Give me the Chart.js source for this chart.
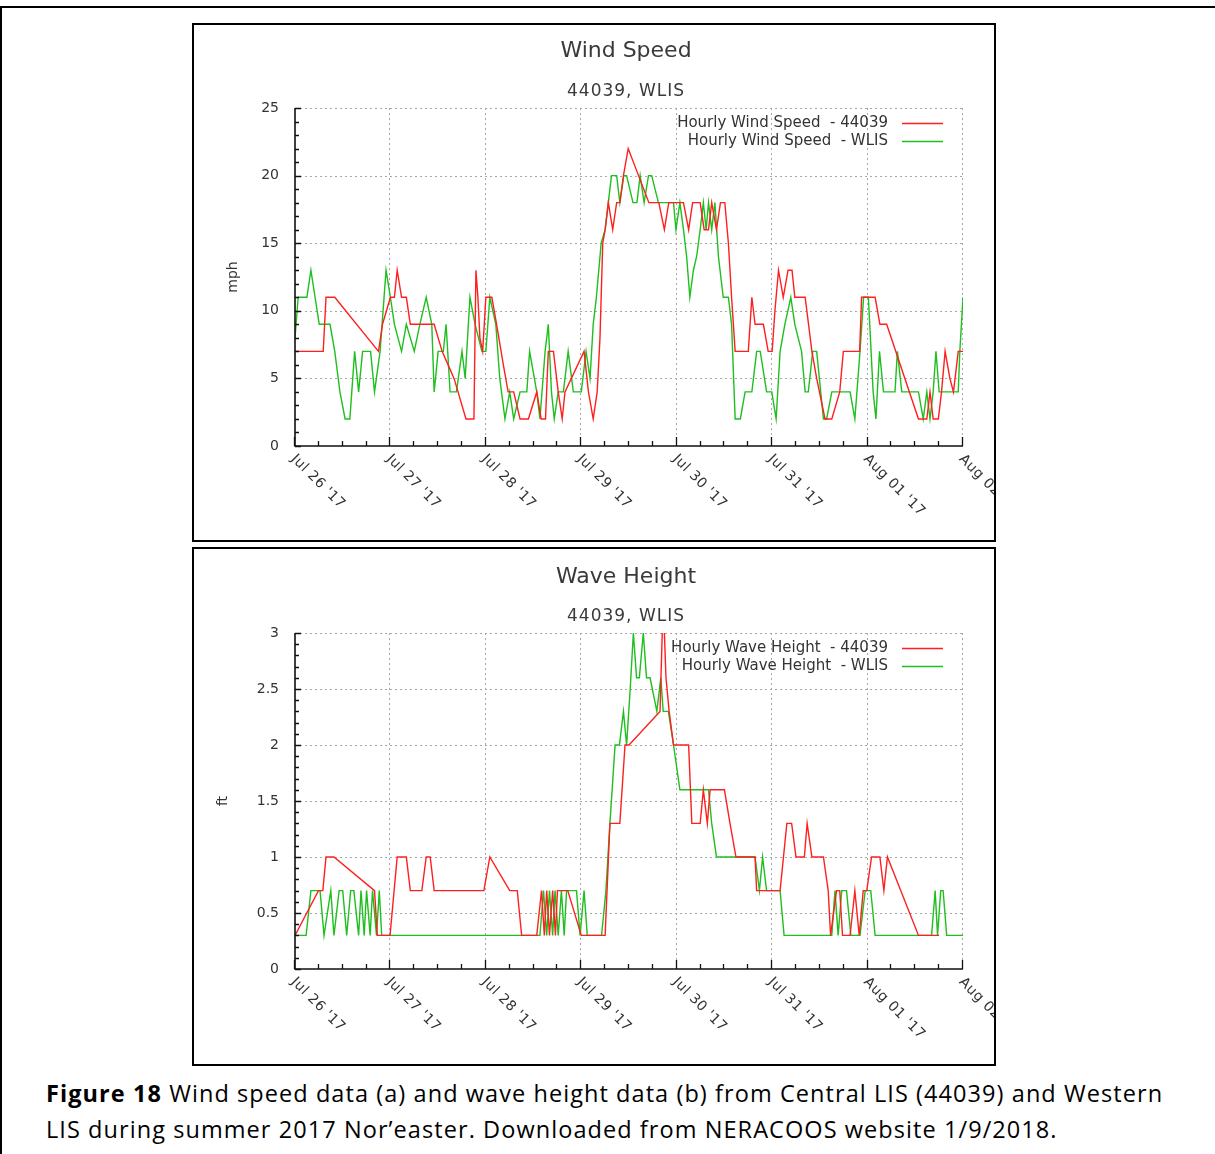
<!DOCTYPE html>
<html>
<head>
<meta charset="utf-8">
<script src="https://cdn.jsdelivr.net/npm/chart.js@4.4.1/dist/chart.umd.min.js"></script>
<style>
html,body{margin:0;padding:0;background:#fff;}
body{width:1215px;height:1154px;overflow:hidden;position:relative;}
#frame{position:absolute;left:0;top:6px;width:1240px;height:1200px;border-top:2px solid #000;border-left:2px solid #000;}
.box{position:absolute;left:192px;width:800px;height:515px;border:2px solid #000;background:#fff;}
#box1{top:23px;}
#box2{top:547px;}
.box canvas{display:block;}
#caption{position:absolute;left:46px;top:1075px;font-family:"Open Sans",sans-serif;font-size:23.5px;line-height:36px;color:#000;white-space:nowrap;}
#caption span{display:inline-block;}
</style>
</head>
<body>
<div id="frame"></div>
<div class="box" id="box1"><canvas id="wind" width="800" height="515"></canvas></div>
<div class="box" id="box2"><canvas id="wave" width="800" height="515"></canvas></div>
<div id="caption"><span id="cap1"><b>Figure 18</b> Wind speed data (a) and wave height data (b) from Central LIS (44039) and Western</span><br><span id="cap2">LIS during summer 2017 Nor’easter. Downloaded from NERACOOS website 1/9/2018.</span></div>
<script>
// ---------- tick labels ----------
const xTickHours = [0, 24, 48, 72, 96, 120, 144, 168];
const xTickLabels = ["Jul 26 '17", "Jul 27 '17", "Jul 28 '17", "Jul 29 '17", "Jul 30 '17", "Jul 31 '17", "Aug 01 '17", "Aug 02 '17"];
const windTicks = [0, 5, 10, 15, 20, 25];
const waveTicks = [0, 0.5, 1, 1.5, 2, 2.5, 3];
const windLegend = ["Hourly Wind Speed  - 44039", "Hourly Wind Speed  - WLIS"];
const waveLegend = ["Hourly Wave Height  - 44039", "Hourly Wave Height  - WLIS"];

// ---------- data (hours since Jul 26 '17 00:00) ----------
const windHours44039 = [0,7.1,7.8,10,21,22,24,25,25.7,26.8,28,29,35,36,37,38.5,40,41,43,45,45.5,46,46.5,47.2,48,49.5,50.7,52.4,53.6,55,56.6,58.7,60.8,61.9,63,63.7,65,66.2,67.2,67.9,72.7,73.8,75,76,76.7,77.4,78,78.8,79.9,80.9,81.7,82.6,83.8,89,91.5,92.9,94,97.7,99,100,101.9,102.9,104,104.8,106,107,108.1,109,109.8,110.7,114,114.9,115.7,117.8,119,120,120.7,121.6,122.8,124,125,125.7,128.3,130,131.2,133.3,135,137,137.9,142,142.5,145.9,147.1,148.8,156.8,158.9,159.7,160.5,161.8,162.6,163.5,164.7,165.6,166.8,168];
const windMph44039 = [7,7,11,11,7,9,11,11,13,11,11,9,9,8,7,6,5,4,2,2,13,11,8,7,11,11,9,6,4,4,2,2,4,2,2,7,7,4,2,4,7,4,2,4,8,15,16,18,16,18,18,20,22,18,18,16,18,18,16,18,18,16,16,18,16,18,18,15,11,7,7,11,9,9,7,7,10,13,11,13,13,11,11,7,5,2,2,4,7,7,11,11,9,9,2,2,4,2,2,4,7,5,4,7,7];

const windHoursWLIS = [0,0.8,3,4,6.1,8.8,10,11.3,12.6,13.8,15,16,17,19,20,21.4,22.9,24,25,26.8,28,30,31.4,33,34.4,35,36,37.3,38,39,40.6,42,42.8,44,45.3,47,48,49,50.5,51.5,52.8,54,55,56.6,58.3,59,60.8,61.6,62.9,63.7,64.5,65.2,66.2,67.5,68.7,70,72,73.2,74.2,75,75.8,77,78,78.8,79.6,80.9,81.7,82.7,83.4,85,86,86.8,87.8,88.9,89.7,91.4,95.2,95.8,96.8,97.7,98.5,99.3,100.2,101,101.9,102.7,103.4,104,104.8,105.6,106.5,107.7,109,109.8,110.7,112,113.2,114.9,116.1,117,118.6,119.9,121,122,123.2,124.7,125.7,127.4,128.3,129.1,130.2,131.2,132.9,133.7,135,139.6,140.8,142.1,143,144.2,145.4,146.1,147,148,150.9,151.5,152.6,156.8,158,158.9,159.7,160.5,161.2,162,166.8,167.2,168];
const windMphWLIS = [8,11,11,13,9,9,7,4,2,2,7,4,7,7,4,7,13,11,9,7,9,7,9,11,9,4,7,7,9,4,4,7,5,11,9,7,7,11,9,5,2,4,2,4,4,7,4,2,7,9,4,2,4,4,7,4,4,7,5,9,11,15,16,18,20,20,18,20,20,18,18,20,18,20,20,18,18,16,18,16,14,11,13,14,16,18,16,18,16,18,14,11,11,9,2,2,4,4,7,7,4,4,2,7,9,11,9,7,4,4,7,7,2,2,4,4,2,7,11,11,4,2,7,4,4,7,4,4,2,4,2,4,7,4,4,7,11];

const waveHours44039 = [0,5.9,7,7.8,9.8,20,20.7,23.9,25.7,28,29,31.9,33,34,35,47.5,49,54,55.9,57,60.8,62,62.7,63.3,64,64.8,65.5,66,68.6,72,78,79.2,81.7,83,84,91.8,92.6,93.3,94.1,95.2,99,99.8,101.9,102.7,103.7,104.4,108,109.4,110.9,115.7,116.1,122,123.7,124.9,126,128.1,128.8,130,132.9,134.1,134.7,136.2,137,137.7,139.6,140.8,141.9,142.9,143.8,145,147.1,148.1,149,156.8,162];
const waveFt44039 = [0.3,0.7,0.7,1,1,0.7,0.3,0.3,1,1,0.7,0.7,1,1,0.7,0.7,1,0.7,0.7,0.3,0.3,0.7,0.3,0.7,0.3,0.7,0.3,0.7,0.7,0.3,0.3,1.3,1.3,2,2,2.3,3.3,2.6,2.3,2,2,1.3,1.3,1.6,1.3,1.6,1.6,1.3,1,1,0.7,0.7,1.3,1.3,1,1,1.3,1,1,0.7,0.3,0.7,0.7,0.3,0.3,0.7,0.3,0.7,0.7,1,1,0.7,1,0.3,0.3];

const waveHoursWLIS = [0,2.8,4,6.3,7.3,9,9.8,11.1,12,13,14,14.8,16,16.6,17.4,18,18.9,19.5,20.5,21.2,21.8,61.6,62.5,63.3,64,64.8,65.4,66.2,67,67.7,68.3,70.8,71.7,72.7,73.5,77.1,78.2,79.2,80.5,81.6,82.6,83.4,84.3,85.1,85.9,86.6,87.6,88.4,89.3,91,92,92.6,93.9,95.2,96.8,104,104.8,106,115.7,116.8,117.6,118.6,122,123,135,135.8,136.6,137.5,138.7,139.8,142.1,143.4,144.8,145.9,160.1,161,161.6,162.4,163,163.9,168];
const waveFtWLIS = [0.3,0.3,0.7,0.7,0.3,0.7,0.3,0.7,0.7,0.3,0.7,0.7,0.3,0.7,0.3,0.7,0.3,0.7,0.3,0.7,0.3,0.3,0.7,0.3,0.7,0.3,0.7,0.3,0.7,0.3,0.7,0.7,0.3,0.7,0.3,0.3,0.7,1.3,2,2,2.3,2,2.5,3,2.6,2.6,3,2.6,2.6,2.3,2.6,2.3,2.3,2,1.6,1.6,1.3,1,1,0.7,1,0.7,0.7,0.3,0.3,0.7,0.3,0.7,0.7,0.3,0.3,0.7,0.7,0.3,0.3,0.7,0.3,0.7,0.7,0.3,0.3];

const RED = '#ff1f1f';
const GREEN = '#1ebf1e';
const TXT = '#333333';
const FONT = '"DejaVu Sans", sans-serif';

// fit caption width to the reference (line 1 ~ 1117px wide)
(function fitCaption(){
  const s1 = document.getElementById('cap1');
  const w = s1.getBoundingClientRect().width;
  const n = s1.textContent.length;
  const ls = (1117 - w) / n;
  document.getElementById('caption').style.letterSpacing = ls.toFixed(2) + 'px';
})();

function pts(hs, vs) { return hs.map((h, i) => ({x: h, y: vs[i]})); }

const gpPlugin = {
  id: 'gp',
  beforeDatasetsDraw(chart, args, o) {
    const ctx = chart.ctx, a = chart.chartArea, x = chart.scales.x, y = chart.scales.y;
    ctx.save();
    ctx.strokeStyle = '#a8a8a8';
    ctx.lineWidth = 1;
    ctx.setLineDash([2, 3]);
    ctx.beginPath();
    xTickHours.forEach(h => {
      if (h === xTickHours[0]) return;
      const px = Math.round(x.getPixelForValue(h)) - 0.5;
      ctx.moveTo(px, a.top); ctx.lineTo(px, a.bottom);
    });
    o.yTicks.forEach(v => {
      if (v === o.yTicks[0]) return;
      const py = Math.round(y.getPixelForValue(v)) + 0.5;
      ctx.moveTo(a.left, py); ctx.lineTo(a.right, py);
    });
    ctx.stroke();
    ctx.restore();
  },
  afterDatasetsDraw(chart, args, o) {
    const ctx = chart.ctx, a = chart.chartArea, x = chart.scales.x, y = chart.scales.y;
    ctx.save();
    // axes
    ctx.strokeStyle = '#111';
    ctx.lineWidth = 1.6;
    ctx.beginPath();
    ctx.moveTo(a.left, a.top); ctx.lineTo(a.left, a.bottom); ctx.lineTo(a.right, a.bottom);
    ctx.stroke();
    // y ticks (major + minor)
    ctx.lineWidth = 1.3;
    ctx.beginPath();
    const yMax = o.yTicks[o.yTicks.length - 1];
    const nMinor = Math.round(yMax / o.minor);
    for (let i = 0; i <= nMinor; i++) {
      const v = i * o.minor;
      const py = Math.round(y.getPixelForValue(v)) + 0.5;
      const major = o.yTicks.some(t => Math.abs(t - v) < 1e-6);
      ctx.moveTo(a.left, py); ctx.lineTo(a.left + (major ? 6 : 4), py);
    }
    // x ticks every 6 hours
    for (let h = 0; h <= 168; h += 6) {
      const px = Math.round(x.getPixelForValue(h)) - 0.5;
      const major = xTickHours.includes(h);
      ctx.moveTo(px, a.bottom); ctx.lineTo(px, a.bottom - (major ? 9 : 5));
    }
    ctx.stroke();
    // x labels, rotated
    ctx.fillStyle = TXT;
    ctx.font = '14px ' + FONT;
    ctx.letterSpacing = '0.5px';
    ctx.textAlign = 'left';
    ctx.textBaseline = 'top';
    xTickHours.forEach((h, i) => {
      const px = x.getPixelForValue(h);
      ctx.save();
      ctx.translate(px + 3, a.bottom + 6);
      ctx.rotate(Math.PI / 4);
      ctx.fillText(xTickLabels[i], 0, 0);
      ctx.restore();
    });
    ctx.letterSpacing = '0px';
    // y title
    ctx.save();
    ctx.translate(o.yTitleX, (a.top + a.bottom) / 2);
    ctx.rotate(-Math.PI / 2);
    ctx.textAlign = 'center';
    ctx.textBaseline = 'middle';
    ctx.font = '14px ' + FONT;
    ctx.fillText(o.yTitle, 0, 0);
    ctx.restore();
    // title + subtitle
    ctx.textAlign = 'center';
    ctx.textBaseline = 'middle';
    ctx.fillStyle = '#3a3a3a';
    ctx.font = '22px ' + FONT;
    ctx.fillText(o.title, o.titleX, o.titleY);
    ctx.font = '17px ' + FONT;
    ctx.letterSpacing = '1px';
    ctx.fillText(o.subtitle, o.titleX, o.subY);
    ctx.letterSpacing = '0px';
    // legend
    ctx.font = '15px ' + FONT;
    ctx.textAlign = 'right';
    ctx.fillStyle = TXT;
    o.legend.forEach((t, i) => {
      const ly = o.legendY + i * 18;
      ctx.fillText(t, o.legendTextX, ly);
      ctx.strokeStyle = o.colors[i];
      ctx.lineWidth = 1.5;
      ctx.beginPath();
      ctx.moveTo(o.legendLineX0, ly + 0.5); ctx.lineTo(o.legendLineX1, ly + 0.5);
      ctx.stroke();
    });
    ctx.restore();
  }
};

function makeChart(id, ds, yMax, yTicks, minor, opts, padTop, padBottom) {
  return new Chart(document.getElementById(id), {
    type: 'line',
    data: { datasets: ds },
    plugins: [gpPlugin],
    options: {
      responsive: false,
      animation: false,
      parsing: false,
      normalized: true,
      layout: { padding: { top: padTop, bottom: padBottom, left: 0, right: 31 } },
      elements: { point: { radius: 0 }, line: { tension: 0 } },
      scales: {
        x: {
          type: 'linear', min: 0, max: 168,
          grid: { display: false, drawTicks: false },
          border: { display: false },
          ticks: { display: false },
          afterFit(s) { s.height = 0; }
        },
        y: {
          type: 'linear', min: 0, max: yMax,
          afterBuildTicks(s) { s.ticks = yTicks.map(v => ({value: v})); },
          grid: { display: false, drawTicks: false },
          border: { display: false },
          ticks: { color: TXT, padding: 16, font: { family: FONT, size: 14 }, callback: v => String(v) },
          afterFit(s) { s.width = 101; }
        }
      },
      plugins: {
        legend: { display: false },
        title: { display: false },
        tooltip: { enabled: false },
        gp: Object.assign({ yTicks: yTicks, minor: minor }, opts)
      }
    }
  });
}

makeChart('wind', [
  { label: windLegend[0], data: pts(windHours44039, windMph44039), borderColor: RED, borderWidth: 1.4 },
  { label: windLegend[1], data: pts(windHoursWLIS, windMphWLIS), borderColor: GREEN, borderWidth: 1.4 }
], 25, windTicks, 1, {
  title: 'Wind Speed', subtitle: '44039, WLIS', titleX: 432, titleY: 26, subY: 67,
  yTitle: 'mph', yTitleX: 39,
  legend: windLegend, colors: [RED, GREEN], legendY: 98, legendTextX: 694, legendLineX0: 708, legendLineX1: 749
}, 83, 94);

makeChart('wave', [
  { label: waveLegend[0], data: pts(waveHours44039, waveFt44039), borderColor: RED, borderWidth: 1.4 },
  { label: waveLegend[1], data: pts(waveHoursWLIS, waveFtWLIS), borderColor: GREEN, borderWidth: 1.4 }
], 3, waveTicks, 0.1, {
  title: 'Wave Height', subtitle: '44039, WLIS', titleX: 432, titleY: 28, subY: 68,
  yTitle: 'ft', yTitleX: 29,
  legend: waveLegend, colors: [RED, GREEN], legendY: 99, legendTextX: 694, legendLineX0: 708, legendLineX1: 749
}, 84, 95);
</script>
</body>
</html>
